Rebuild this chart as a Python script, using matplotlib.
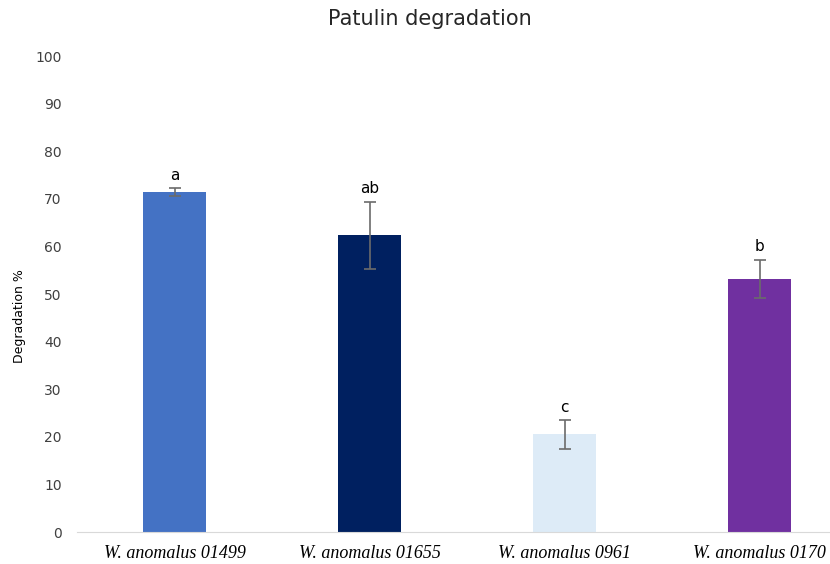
import numpy as np
from matplotlib import pyplot as plt

strains = ['W. anomalus 01499', 'W. anomalus 01655', 'W. anomalus 0961', 'W. anomalus 0170']
degradation = [71.4, 62.3, 20.5, 53.2]
err = [0.8, 7.1, 3.0, 4.0]
letters = ['a', 'ab', 'c', 'b']
colors = ['#4472C4', '#002060', '#DDEBF7', '#7030A0']

fig = plt.figure(figsize=(8.3, 5.64), dpi=100)
# axes runs past the right edge, as in the cropped reference
ax = fig.add_axes([77/830, 1-532/564, 780/830, (532-56)/564])

x = np.arange(len(strains))
ax.bar(x, degradation, width=0.32, color=colors, zorder=2)
ax.errorbar(x, degradation, yerr=err, fmt='none', ecolor='#6b6b6b',
            elinewidth=1.2, capsize=4, capthick=1.2, zorder=3)
for xi, v, e, lab in zip(x, degradation, err, letters):
    ax.annotate(lab, (xi, v + e), xytext=(0, 4), textcoords='offset points',
                ha='center', va='bottom', fontsize=11)

ax.set_xlim(-0.5, len(strains) - 0.5)
ax.set_ylim(0, 100)
ax.set_yticks(np.arange(0, 101, 10))
ax.set_xticks(x)
ax.set_xticklabels(strains, fontfamily='Liberation Serif', fontstyle='italic', fontsize=13)
ax.tick_params(axis='y', length=0, pad=11, labelsize=10, labelcolor='#404040')
ax.tick_params(axis='x', length=0, pad=9)
for s in ['top', 'right', 'left']:
    ax.spines[s].set_visible(False)
ax.spines['bottom'].set_color('#d9d9d9')
fig.text(20/830, 1-316/564, 'Degradation %', rotation=90, ha='center', va='center', fontsize=9)
fig.text(430/830, 1-19/564, 'Patulin degradation', ha='center', va='center', fontsize=15, color='#262626')

plt.savefig('out.png', dpi=100)
